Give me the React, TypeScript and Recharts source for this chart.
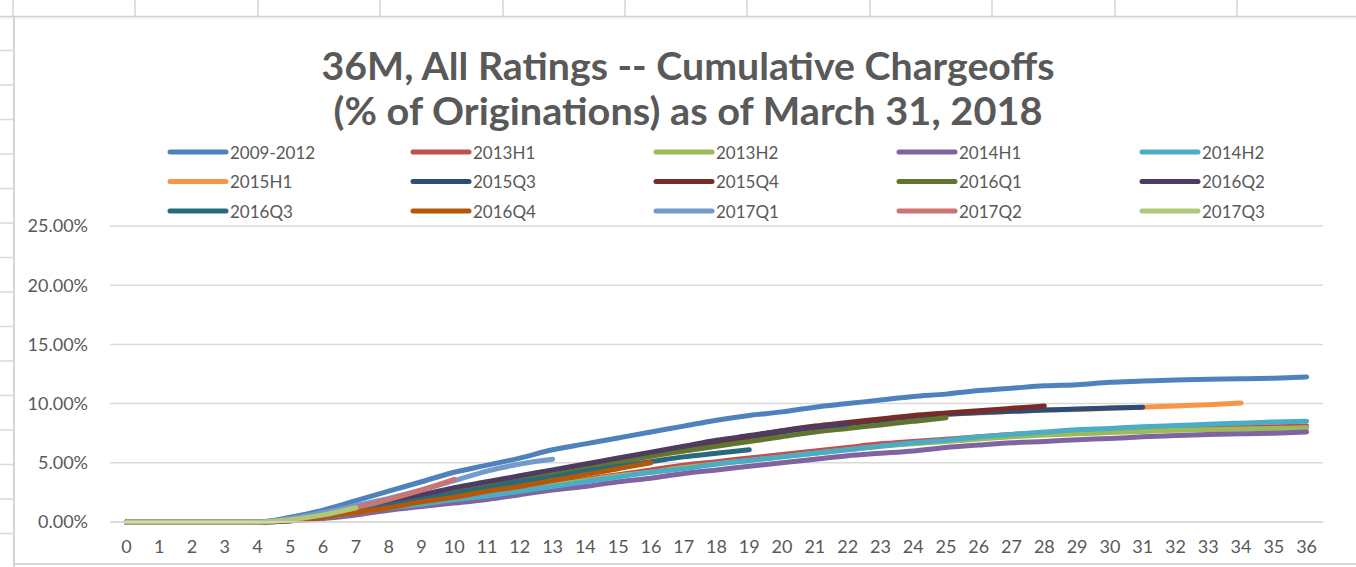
import React from 'react';
import { LineChart, Line, XAxis, YAxis, CartesianGrid } from 'recharts';

const months = [0,1,2,3,4,5,6,7,8,9,10,11,12,13,14,15,16,17,18,19,20,21,22,23,24,25,26,27,28,29,30,31,32,33,34,35,36];
const yTicks = [0, 5, 10, 15, 20, 25];

const seriesNames = ['2009-2012','2013H1','2013H2','2014H1','2014H2','2015H1','2015Q3','2015Q4','2016Q1','2016Q2','2016Q3','2016Q4','2017Q1','2017Q2','2017Q3'];
const seriesColors = ['#4F81BD','#C0504D','#9BBB59','#8064A2','#4BACC6','#F79646','#2C4D75','#772C2A','#5F7530','#4D3B62','#276A7C','#B65708','#729ACA','#CD7371','#AFC97A'];

const s2009_2012 = [0,0,0,0,0,0.4,1.0,1.8,2.6,3.4,4.2,4.8,5.4,6.1,6.6,7.1,7.6,8.1,8.6,9.0,9.3,9.7,10.0,10.3,10.6,10.8,11.1,11.3,11.5,11.6,11.8,11.9,12.0,12.05,12.1,12.15,12.25];
const s2013H1 = [0,0,0,0,0,0.2,0.5,0.9,1.3,1.7,2.1,2.4,2.8,3.2,3.6,4.0,4.4,4.8,5.1,5.4,5.7,6.0,6.3,6.6,6.8,7.0,7.2,7.4,7.5,7.6,7.7,7.8,7.9,7.95,8.0,8.05,8.1];
const s2013H2 = [0,0,0,0,0,0.2,0.5,0.9,1.2,1.6,1.9,2.3,2.7,3.1,3.5,3.9,4.2,4.6,4.9,5.2,5.5,5.8,6.1,6.4,6.6,6.8,7.0,7.2,7.35,7.45,7.55,7.65,7.75,7.8,7.85,7.9,7.95];
const s2014H1 = [0,0,0,0,0,0.1,0.3,0.6,1.0,1.3,1.6,1.9,2.3,2.7,3.0,3.4,3.7,4.1,4.4,4.7,5.0,5.3,5.6,5.8,6.0,6.3,6.5,6.7,6.8,6.95,7.05,7.2,7.3,7.4,7.45,7.5,7.6];
const s2014H2 = [0,0,0,0,0,0.2,0.4,0.8,1.2,1.5,1.9,2.2,2.6,3.0,3.4,3.8,4.2,4.5,4.9,5.2,5.5,5.8,6.1,6.4,6.7,6.9,7.2,7.4,7.6,7.8,7.9,8.05,8.15,8.25,8.35,8.45,8.5];
const s2015H1 = [0,0,0,0,0,0.2,0.6,1.1,1.6,2.1,2.6,3.1,3.6,4.1,4.5,5.0,5.5,6.0,6.5,7.0,7.6,8.0,8.3,8.6,8.9,9.1,9.2,9.35,9.45,9.5,9.6,9.7,9.8,9.9,10.05];
const s2015Q3 = [0,0,0,0,0,0.2,0.6,1.1,1.6,2.1,2.6,3.1,3.6,4.1,4.6,5.1,5.6,6.1,6.6,7.1,7.6,8.0,8.3,8.6,8.9,9.1,9.25,9.35,9.45,9.55,9.62,9.7];
const s2015Q4 = [0,0,0,0,0,0.2,0.6,1.1,1.6,2.2,2.7,3.2,3.7,4.2,4.7,5.2,5.7,6.2,6.7,7.2,7.7,8.1,8.4,8.7,9.0,9.2,9.4,9.6,9.8];
const s2016Q1 = [0,0,0,0,0,0.2,0.6,1.1,1.6,2.1,2.6,3.1,3.6,4.1,4.6,5.1,5.6,6.0,6.4,6.8,7.2,7.6,7.9,8.2,8.5,8.8];
const s2016Q2 = [0,0,0,0,0,0.2,0.7,1.2,1.8,2.3,2.9,3.4,3.9,4.4,4.9,5.4,5.9,6.4,6.9,7.3,7.7,8.0,8.3];
const s2016Q3 = [0,0,0,0,0,0.1,0.4,0.9,1.4,1.9,2.4,2.9,3.4,3.8,4.3,4.7,5.1,5.5,5.8,6.1];
const s2016Q4 = [0,0,0,0,0,0.1,0.4,0.8,1.2,1.7,2.1,2.6,3.0,3.5,4.0,4.5,5.0];
const s2017Q1 = [0,0,0,0,0,0.3,0.8,1.4,2.0,2.7,3.5,4.3,4.9,5.3];
const s2017Q2 = [0,0,0,0,0,0.2,0.6,1.2,1.9,2.7,3.6];
const s2017Q3 = [0,0,0,0,0,0.2,0.6,1.2];

const seriesValues = [s2009_2012, s2013H1, s2013H2, s2014H1, s2014H2, s2015H1, s2015Q3, s2015Q4, s2016Q1, s2016Q2, s2016Q3, s2016Q4, s2017Q1, s2017Q2, s2017Q3];

const titleLine1 = '36M, All Ratings -- Cumulative Chargeoffs';
const titleLine2 = '(% of Originations) as of March 31, 2018';

const data = months.map((m, i) => {
  const row: Record<string, number | null> = { m };
  seriesNames.forEach((name, k) => {
    const vals = seriesValues[k];
    row[name] = i < vals.length ? vals[i] : null;
  });
  return row;
});

const TEXT = '#595959';
const FONT = 'Lato, "Noto Sans", sans-serif';

const rowTicks: number[] = [];
for (let y = 50.5; y < 567; y += 34.5) rowTicks.push(y);
const colSeps = [13, 135, 258, 380, 503, 625, 747, 870, 992, 1115, 1237];

export default function App() {
  return (
    <div style={{ position: 'absolute', left: 0, top: 0, width: 1356, height: 567, background: '#fff', overflow: 'hidden' }}>
      <svg width={1356} height={567} style={{ position: 'absolute', left: 0, top: 0 }}>
        {colSeps.map((x) => (
          <line key={x} x1={x} y1={0} x2={x} y2={16} stroke="#d4d4d4" strokeWidth={1.5} />
        ))}
        <line x1={0} y1={16.5} x2={1356} y2={16.5} stroke="#d0d0d0" strokeWidth={1.5} />
        <line x1={0} y1={18} x2={1356} y2={18} stroke="#ececec" strokeWidth={1.5} />
        <line x1={14} y1={16} x2={14} y2={567} stroke="#d4d4d4" strokeWidth={2} />
        {rowTicks.map((y) => (
          <line key={y} x1={0} y1={y} x2={14} y2={y} stroke="#d8d8d8" strokeWidth={1.5} />
        ))}
        <line x1={14} y1={564} x2={1356} y2={564} stroke="#d8d8d8" strokeWidth={2} />
      </svg>
      <LineChart
        width={1356}
        height={567}
        data={data}
        margin={{ top: 226, right: 33, bottom: 0, left: 0 }}
        style={{ position: 'absolute', left: 0, top: 0 }}
      >
        <CartesianGrid vertical={false} stroke="#d9d9d9" strokeWidth={1.5} />
        <XAxis
          dataKey="m"
          type="number"
          domain={[-0.5, 36.5]}
          ticks={months}
          interval={0}
          height={45}
          axisLine={{ stroke: '#d9d9d9', strokeWidth: 1.5 }}
          tickLine={false}
          tickSize={0}
          tickMargin={18}
          tick={{ fill: TEXT, fontSize: 18, fontFamily: FONT }}
        />
        <YAxis
          type="number"
          domain={[0, 25]}
          ticks={yTicks}
          width={110}
          axisLine={false}
          tickLine={false}
          tickSize={0}
          tickMargin={22}
          tickFormatter={(v: number) => `${v.toFixed(2)}%`}
          tick={{ fill: TEXT, fontSize: 18, fontFamily: FONT }}
        />
        {seriesNames.map((name, k) => (
          <Line
            key={name}
            dataKey={name}
            type="monotone"
            stroke={seriesColors[k]}
            strokeWidth={5}
            strokeLinecap="round"
            dot={false}
            activeDot={false}
            connectNulls={false}
            isAnimationActive={false}
          />
        ))}
      </LineChart>
      <svg width={1356} height={567} style={{ position: 'absolute', left: 0, top: 0, pointerEvents: 'none' }}>
        <text x={688} y={80} textAnchor="middle" fill={TEXT} fontFamily={FONT} fontWeight={700} fontSize={38} textLength={733} lengthAdjust="spacingAndGlyphs">{titleLine1}</text>
        <text x={688} y={125} textAnchor="middle" fill={TEXT} fontFamily={FONT} fontWeight={700} fontSize={38} textLength={709} lengthAdjust="spacingAndGlyphs">{titleLine2}</text>
        {seriesNames.map((name, k) => {
          const col = k % 5;
          const row = Math.floor(k / 5);
          const x0 = 170 + col * 243;
          const y = 152 + row * 29.5;
          return (
            <g key={name}>
              <line x1={x0} y1={y} x2={x0 + 56} y2={y} stroke={seriesColors[k]} strokeWidth={5} strokeLinecap="round" />
              <text x={x0 + 60} y={y} dominantBaseline="central" fill={TEXT} fontFamily={FONT} fontSize={17}>{name}</text>
            </g>
          );
        })}
      </svg>
    </div>
  );
}
